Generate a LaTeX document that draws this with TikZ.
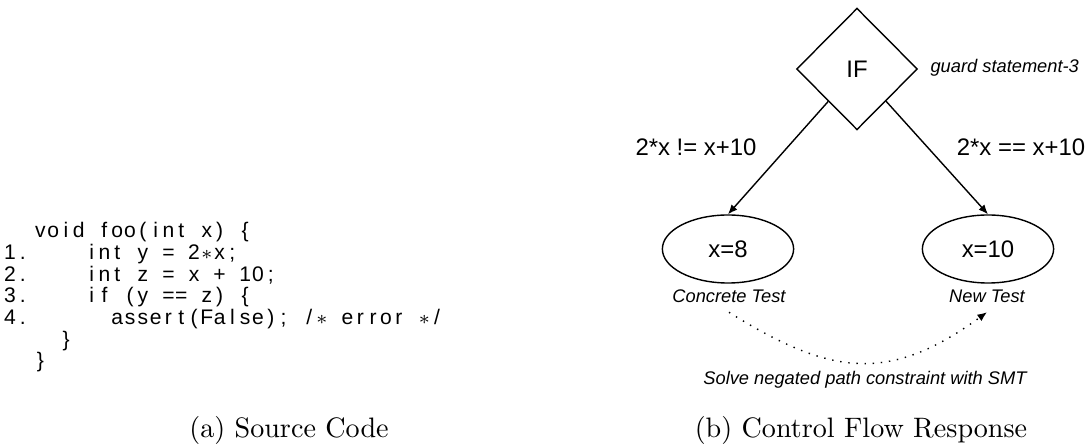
\documentclass[tikz,border=0pt]{standalone}
\usepackage{fontspec}
\usepackage{tikz}
\usetikzlibrary{arrows.meta,positioning,shapes.geometric}
\newfontfamily\helv{Liberation Sans}
\newcommand{\mainsize}{\fontsize{8.5}{10}\selectfont}
\newcommand{\notesize}{\fontsize{6.5}{8}\selectfont}
\newcommand{\codesize}{\fontsize{7.5}{9}\selectfont}
% fixed columns for the listing: < and > stand for the braces
\newlength{\colw}
\setlength{\colw}{4.55pt}
\ExplSyntaxOn
\NewDocumentCommand{\fixcols}{m}
  {
    \str_map_inline:nn {#1}
      {
        \makebox[\colw]{\str_case:nnF {##1} { {*}{$\ast$} {<}{\{} {>}{\}} } {##1}}
      }
  }
\ExplSyntaxOff

\begin{document}
\begin{tikzpicture}[x=0.0125cm,y=-0.0125cm,
    codeline/.style={anchor=base west,inner sep=0pt,font=\helv\codesize},
    edgelbl/.style={inner sep=0pt,font=\helv\mainsize},
    remark/.style={inner sep=0pt,font=\helv\itshape\notesize},
    capt/.style={inner sep=0pt,font=\rmfamily\normalsize},
    ifnode/.style={diamond,draw,line width=0.5pt,aspect=1,inner sep=0pt,
                   minimum width=1.51cm,minimum height=1.52cm,font=\helv\mainsize},
    testnode/.style={ellipse,draw,line width=0.5pt,inner sep=0pt,
                     minimum width=1.64cm,minimum height=0.85cm,font=\helv\mainsize},
    flow/.style={-{Latex[length=3.4pt,width=2.8pt]},line width=0.5pt},
    smtarrow/.style={-{Latex[length=3.4pt,width=2.8pt]},line width=0.5pt,
                     dash pattern=on 0.5pt off 2.4pt}]
  \useasboundingbox (0,0) rectangle (1091,447);
  % (a) source code
  \node[codeline] (l0) at (33.5,238) {\fixcols{void foo(int x) <}};
  \node[codeline] (n1) at (3,260) {\fixcols{1.}};
  \node[codeline] (l1) at (84.7,260) {\fixcols{int y = 2*x;}};
  \node[codeline] (n2) at (3,282) {\fixcols{2.}};
  \node[codeline] (l2) at (84.7,282) {\fixcols{int z = x + 10;}};
  \node[codeline] (n3) at (3,303) {\fixcols{3.}};
  \node[codeline] (l3) at (84.7,303) {\fixcols{if (y == z) <}};
  \node[codeline] (n4) at (3,325) {\fixcols{4.}};
  \node[codeline] (l4) at (110.3,325) {\fixcols{assert(False); /* error */}};
  \node[codeline] (l5) at (59.1,347) {\fixcols{>}};
  \node[codeline] (l6) at (33.5,368) {\fixcols{>}};
  \node[capt] (capa) at (289,430) {(a) Source Code};
  % (b) control flow
  \node[ifnode] (if) at (857,69) {IF};
  \node[remark,anchor=west] (guard) at (930,68) {guard statement-3};
  \node[testnode] (e8) at (728,249) {x=8};
  \node[testnode] (e10) at (988,249) {x=10};
  \draw[flow] (if) -- (e8.north);
  \draw[flow] (if) -- (e10.north);
  \node[edgelbl] (neq) at (696,147) {2*x != x+10};
  \node[edgelbl] (eq) at (1021,147) {2*x == x+10};
  \node[remark,outer sep=3.5pt] (ct) at (729,296) {Concrete Test};
  \node[remark,outer sep=3.5pt] (nt) at (987,296) {New Test};
  \draw[smtarrow] (ct.south) to[out=-32,in=-144,looseness=1.2] (nt.south);
  \node[remark] (smt) at (865,380) {Solve negated path constraint with SMT};
  \node[capt] (capb) at (861,430) {(b) Control Flow Response};
\end{tikzpicture}
\end{document}
